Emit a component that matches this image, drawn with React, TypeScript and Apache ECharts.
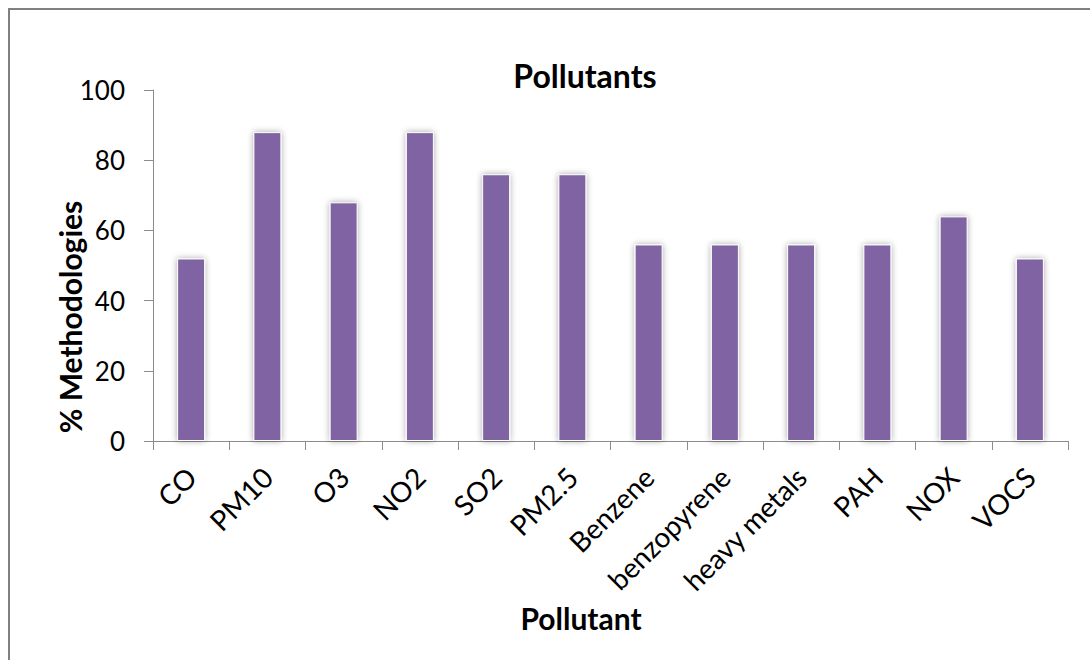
import React, { useEffect, useRef } from "react";
import * as echarts from "echarts";

const categories = ["CO", "PM10", "O3", "NO2", "SO2", "PM2.5", "Benzene", "benzopyrene", "heavy metals", "PAH", "NOX", "VOCS"];
const values = [52, 88, 68, 88, 76, 76, 56, 56, 56, 56, 64, 52];
const chartTitle = "Pollutants";
const xAxisTitle = "Pollutant";
const yAxisTitle = "% Methodologies";

const FONT = "Lato, 'Open Sans', sans-serif";

export default function App() {
  const ref = useRef<HTMLDivElement>(null);
  useEffect(() => {
    if (!ref.current) return;
    const chart = echarts.init(ref.current, undefined, { renderer: "svg" });
    chart.setOption({
      animation: false,
      backgroundColor: "#ffffff",
      grid: { left: 153, top: 90, right: 22, bottom: 219, containLabel: false },
      xAxis: {
        type: "category",
        data: categories,
        axisLine: { lineStyle: { color: "#8c8c8c", width: 1 } },
        axisTick: { show: true, length: 9, alignWithLabel: false, lineStyle: { color: "#8c8c8c" } },
        axisLabel: { rotate: 45, margin: 31, fontSize: 28, color: "#000", fontFamily: FONT, interval: 0 },
      },
      yAxis: {
        type: "value",
        min: 0,
        max: 100,
        interval: 20,
        splitLine: { show: false },
        axisLine: { show: true, lineStyle: { color: "#8c8c8c", width: 1 } },
        axisTick: { show: true, length: 9, lineStyle: { color: "#8c8c8c" } },
        axisLabel: { fontSize: 26, color: "#000", fontFamily: FONT, margin: 28 },
      },
      series: [
        {
          type: "bar",
          data: values,
          barWidth: 28,
          itemStyle: {
            color: "#8064A2",
            borderColor: "#ffffff",
            borderWidth: 1,
            shadowColor: "rgba(0,0,0,0.35)",
            shadowBlur: 6,
            shadowOffsetX: 0,
            shadowOffsetY: 0,
          },
        },
      ],
      graphic: [
        {
          type: "rect",
          shape: { x: 9, y: 9, width: 1200, height: 800 },
          style: { fill: "none", stroke: "#808080", lineWidth: 2 },
          silent: true,
        },
        {
          type: "text",
          x: 585,
          y: 75,
          style: { text: chartTitle, fontSize: 32, fontWeight: "bold", fill: "#000", fontFamily: FONT, align: "center", verticalAlign: "middle" },
        },
        {
          type: "text",
          x: 581,
          y: 618,
          style: { text: xAxisTitle, fontSize: 30, fontWeight: "bold", fill: "#000", fontFamily: FONT, align: "center", verticalAlign: "middle" },
        },
        {
          type: "text",
          x: 70,
          y: 317,
          rotation: Math.PI / 2,
          style: { text: yAxisTitle, fontSize: 30, fontWeight: "bold", fill: "#000", fontFamily: FONT, align: "center", verticalAlign: "middle" },
        },
      ],
    });
    return () => chart.dispose();
  }, []);
  return <div ref={ref} style={{ position: "fixed", left: 0, top: 0, width: 1090, height: 660 }} />;
}
